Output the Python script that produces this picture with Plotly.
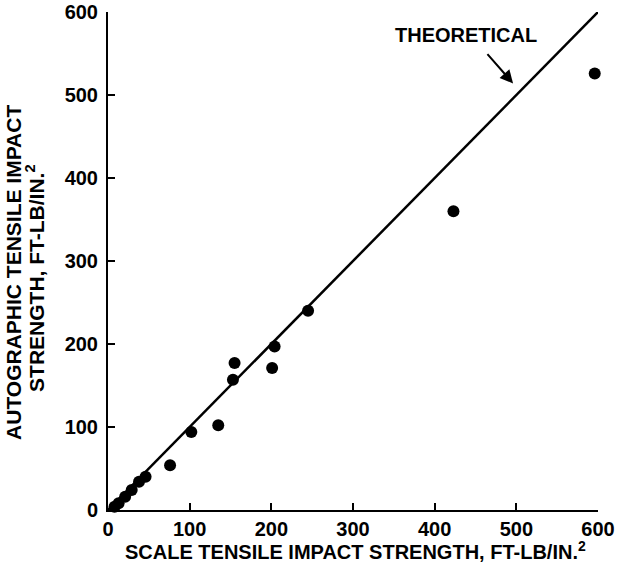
import plotly.graph_objects as go

scale_x = [8, 13, 21, 29, 38, 46, 76, 102, 135, 153, 155, 201, 204, 245, 423, 596]
auto_y = [4, 8, 16, 24, 34, 40, 54, 94, 102, 157, 177, 171, 197, 240, 360, 526]
theory_x = [0, 600]
theory_y = [0, 600]
ticks = [0, 100, 200, 300, 400, 500, 600]

FAM = "Liberation Sans, Arial, sans-serif"

fig = go.Figure()
fig.add_trace(go.Scatter(x=theory_x, y=theory_y, mode="lines",
                         line=dict(color="black", width=2.5), showlegend=False,
                         cliponaxis=False))
fig.add_trace(go.Scatter(x=scale_x, y=auto_y, mode="markers",
                         marker=dict(color="black", size=12), showlegend=False,
                         cliponaxis=False))

fig.add_annotation(x=496, y=514, ax=463, ay=551, axref="x", ayref="y",
                   text="", showarrow=True, arrowhead=2, arrowsize=1.3,
                   arrowwidth=2, arrowcolor="black")
fig.add_annotation(x=438, y=572, text="THEORETICAL", showarrow=False,
                   font=dict(size=20, color="black", family=FAM, weight="bold"))

# axis titles
fig.add_annotation(xref="paper", yref="paper", x=0.505, y=-0.081,
                   text="SCALE TENSILE IMPACT STRENGTH, FT-LB/IN.<sup>2</sup>",
                   showarrow=False, xanchor="center", yanchor="middle",
                   font=dict(size=20, color="black", family=FAM, weight="bold"))
fig.add_annotation(xref="paper", yref="paper", x=(14 - 108) / 490, y=0.476,
                   text="AUTOGRAPHIC TENSILE IMPACT", textangle=-90,
                   showarrow=False, xanchor="center", yanchor="middle",
                   font=dict(size=21, color="black", family=FAM, weight="bold"))
fig.add_annotation(xref="paper", yref="paper", x=(35 - 108) / 490, y=0.466,
                   text="STRENGTH, FT-LB/IN.<sup>2</sup>", textangle=-90,
                   showarrow=False, xanchor="center", yanchor="middle",
                   font=dict(size=21, color="black", family=FAM, weight="bold"))

axis_common = dict(range=[0, 600], tickvals=ticks, ticks="inside", ticklen=7,
                   tickwidth=1.5, tickcolor="black", showline=True, linecolor="black",
                   linewidth=2, showgrid=False, zeroline=False, mirror=False,
                   automargin=False,
                   tickfont=dict(size=20, color="black", family=FAM, weight="bold"))

fig.update_xaxes(**axis_common)
fig.update_yaxes(**axis_common, ticklabelstandoff=4)

fig.update_layout(width=617, height=568, paper_bgcolor="white", plot_bgcolor="white",
                  margin=dict(l=108, r=19, t=12, b=58), showlegend=False)

fig.write_html("out.html")
